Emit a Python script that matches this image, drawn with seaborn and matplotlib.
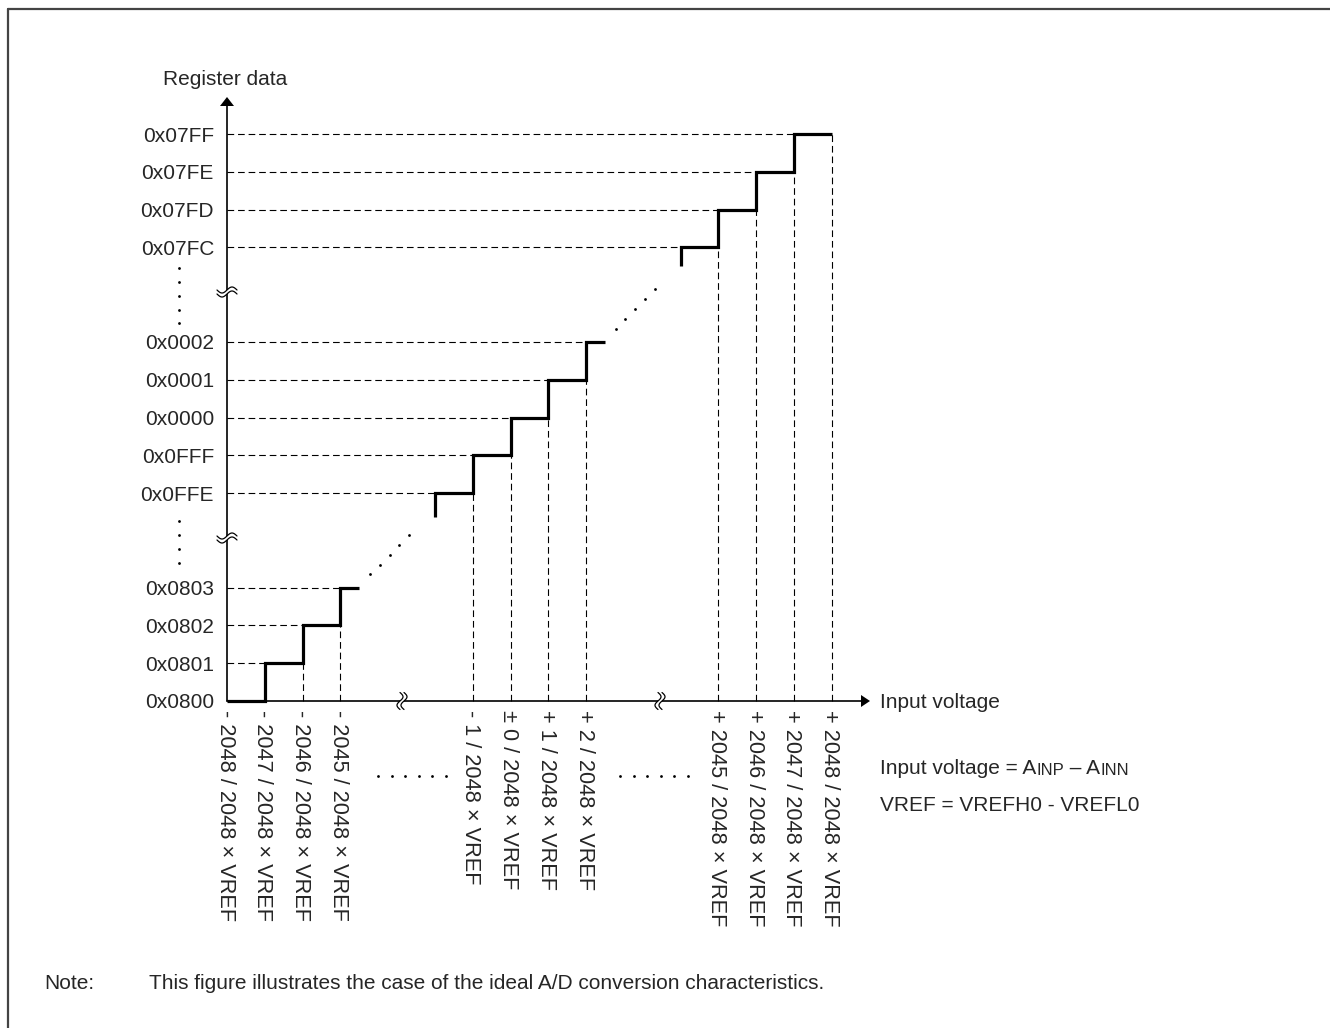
import numpy as np
import pandas as pd
import matplotlib
matplotlib.use("Agg")
import matplotlib.pyplot as plt
import seaborn as sns

# ---- data -------------------------------------------------------------
codes = ["0x0800", "0x0801", "0x0802", "0x0803",
         "0x0FFE", "0x0FFF", "0x0000", "0x0001", "0x0002",
         "0x07FC", "0x07FD", "0x07FE", "0x07FF"]
voltage_steps = [-2048, -2047, -2046, -2045, -1, 0, 1, 2, 2045, 2046, 2047, 2048]
full_scale = 2048
y_title = "Register data"
x_title = "Input voltage"
formula_lines = [("Input voltage = A", "INP", " \u2013 A", "INN"),
                 ("VREF = VREFH0 - VREFL0",)]
note_label = "Note:"
note_text = "This figure illustrates the case of the ideal A/D conversion characteristics."

# ---- layout -----------------------------------------------------------
U = 37.8            # pixels per LSB step on the drawing
X0, Y0 = 227, 701   # origin in pixels
W, H = 1330, 1028


def px(x):
    return (x - X0) / U


def py(y):
    return (Y0 - y) / U


def slot(v):
    """Position of a code / voltage step on the broken axes."""
    if v < -1000:
        return v + 2048
    if v > 1000:
        return v - 2032
    return v + 7.5


def signed(h):
    v = int(h, 16)
    return v - 4096 if v >= 2048 else v


sns.set_theme(style="white")
plt.rcParams["font.family"] = ["Liberation Sans", "DejaVu Sans"]
FS = 15

fig = plt.figure(figsize=(W / 100, H / 100), dpi=100)
ax = fig.add_axes([0, 0, 1, 1])
ax.set_xlim(px(0), px(W))
ax.set_ylim(py(H), py(0))
ax.axis("off")

code_vals = [signed(c) for c in codes]

# group consecutive codes into staircase segments
groups = [[code_vals[0]]]
for c in code_vals[1:]:
    if c == groups[-1][-1] + 1:
        groups[-1].append(c)
    else:
        groups.append([c])
lead_in = [0.0, 0.62, 0.5]
tail = [0.5, 0.5, 1.0]

rows = []
for gi, grp in enumerate(groups):
    s0 = slot(grp[0])
    pts = []
    if lead_in[gi] > 0:
        pts.append((s0, s0 - lead_in[gi]))
    for k, c in enumerate(grp):
        s = slot(c)
        pts.append((s, s))
        pts.append((s + (1 if k < len(grp) - 1 else tail[gi]), s))
    for order, (x, y) in enumerate(pts):
        rows.append({"seg": gi, "order": order, "x": x, "y": y})
stairs = pd.DataFrame(rows)

# dashed guides
dash_kw = dict(color="black", linewidth=0.8, linestyle=(0, (6, 3.5)), zorder=1)
for c in code_vals:
    xe = slot(c)
    if xe > 0:
        ax.plot([0, xe], [slot(c), slot(c)], **dash_kw)
for v in voltage_steps:
    if (v - 1) in code_vals:
        top = slot(v - 1)
        if top > 0:
            ax.plot([slot(v), slot(v)], [0, top], **dash_kw)

sns.lineplot(data=stairs, x="x", y="y", units="seg", estimator=None, sort=False,
             color="black", linewidth=2.3, legend=False, ax=ax, zorder=3)
for line in ax.lines[-len(groups):]:
    line.set_solid_joinstyle("miter")
    line.set_solid_capstyle("butt")

# diagonal continuation dots between segments
for gi in range(len(groups) - 1):
    last = slot(groups[gi][-1])
    xs = last + tail[gi] + 0.28 + 0.26 * np.arange(5)
    ys = last + 0.35 + 0.26 * np.arange(5)
    ax.plot(xs, ys, "o", color="black", markersize=2.0, markeredgewidth=0, zorder=3)

# axes lines and arrow heads
ax.plot([0, 0], [0, py(104)], color="black", linewidth=1.2, zorder=4)
ax.plot([0, px(863)], [0, 0], color="black", linewidth=1.2, zorder=4)
ax.fill([0, -7 / U, 7 / U], [py(97), py(106), py(106)], color="black", zorder=5, lw=0)
ax.fill([px(870), px(861), px(861)], [0, 6 / U, -6 / U], color="black", zorder=5, lw=0)


def break_mark(cx, cy, along_x, half_len, amp=3.0, gap=4.0):
    t = np.linspace(-1, 1, 60)
    a = t * half_len / U
    off = amp * np.sin(np.pi * t) / U
    g = gap / 2 / U
    if along_x:
        c1 = (cx + a, cy + off - g)
        c2 = (cx + a, cy + off + g)
    else:
        c1 = (cx + off - g, cy + a)
        c2 = (cx + off + g, cy + a)
    ax.fill(np.concatenate([c1[0], c2[0][::-1]]),
            np.concatenate([c1[1], c2[1][::-1]]), color="white", lw=0, zorder=6)
    for cxs, cys in (c1, c2):
        ax.plot(cxs, cys, color="black", linewidth=0.9, zorder=7)


break_mark(0, py(292), True, 10)
break_mark(0, py(538), True, 10)
break_mark(px(402), 0, False, 8.5)
break_mark(px(660), 0, False, 8.5)

# y tick labels
for h, c in zip(codes, code_vals):
    ax.text(px(214), slot(c) - 7.5 / U, h, ha="right", va="baseline", fontsize=FS)

# vertical ellipsis on y labels
for ys in ([268, 282, 296, 310, 323], [521, 535, 549, 563]):
    ax.plot([px(179)] * len(ys), [py(y) for y in ys], "o", color="black",
            markersize=2.0, markeredgewidth=0)

# x tick labels (rotated)
for v in voltage_steps:
    sign = "-" if v < 0 else ("+" if v > 0 else "\u00b1")
    lab = f"{sign} {abs(v)} / {full_scale} \u00d7 VREF"
    ax.text(slot(v) - 2 / U, py(710), lab, rotation=270, ha="center", va="top",
            fontsize=15.7)

# horizontal ellipsis between label groups
for x_start in (378, 620):
    xs = [px(x_start + 13.6 * i) for i in range(6)]
    ax.plot(xs, [py(776)] * 6, "o", color="black", markersize=2.0, markeredgewidth=0)

# axis titles
ax.text(px(163), py(85), y_title, ha="left", va="baseline", fontsize=FS)
ax.text(px(880), py(708), x_title, ha="left", va="baseline", fontsize=FS)

# formula lines with small-caps subscripts
small = 12
prev = ax.text(px(880), py(774), formula_lines[0][0], ha="left", va="baseline", fontsize=FS)
for i, piece in enumerate(formula_lines[0][1:]):
    fs = small if i % 2 == 0 else FS
    prev = ax.annotate(piece, xy=(1, 0), xycoords=prev, ha="left", va="bottom",
                       fontsize=fs)
ax.text(px(880), py(811), formula_lines[1][0], ha="left", va="baseline", fontsize=FS)

# note
ax.text(px(44), py(989), note_label, ha="left", va="baseline", fontsize=FS)
ax.text(px(149), py(989), note_text, ha="left", va="baseline", fontsize=FS)

# outer frame (top and left edges)
ax.plot([px(8), px(W)], [py(9), py(9)], color="#444444", linewidth=1.6, clip_on=False)
ax.plot([px(8), px(8)], [py(9), py(H)], color="#444444", linewidth=1.6, clip_on=False)

fig.savefig("out.png", dpi=100)
